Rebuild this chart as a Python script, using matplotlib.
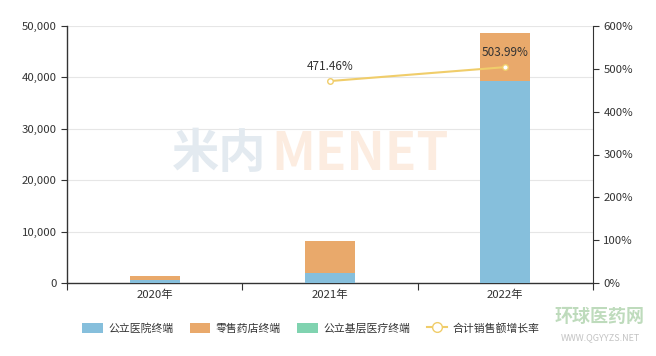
import matplotlib
matplotlib.use("Agg")
import matplotlib.pyplot as plt
from matplotlib.lines import Line2D
import numpy as np

plt.rcParams['font.family'] = ['Noto Sans CJK SC', 'DejaVu Sans']

categories = ["2020年", "2021年", "2022年"]
public_hospital = [500, 1900, 39300]
retail_pharmacy = [900, 6270, 9340]
primary_care = [0, 0, 0]
growth_rate = [None, 471.46, 503.99]
series_names = ["公立医院终端", "零售药店终端", "公立基层医疗终端", "合计销售额增长率"]

c_blue = "#86bfdc"
c_orange = "#e9a96b"
c_green = "#80d3b0"
c_line = "#f0cd6a"
c_text = "#333333"

fig = plt.figure(figsize=(6.56, 3.56), dpi=100)
ax = fig.add_axes([67/656, 1-283/356, (593-67)/656, (283-26)/356])
x = np.arange(len(categories))
w = 0.285
ax.bar(x, public_hospital, w, color=c_blue, zorder=3)
ax.bar(x, retail_pharmacy, w, bottom=public_hospital, color=c_orange, zorder=3)
bottom2 = [a + b for a, b in zip(public_hospital, retail_pharmacy)]
ax.bar(x, primary_care, w, bottom=bottom2, color=c_green, zorder=3)

ax.set_xlim(-0.5, 2.5)
ax.set_ylim(0, 50000)
ax.set_yticks(np.arange(0, 50001, 10000))
ax.set_yticklabels([f"{v:,}" for v in range(0, 50001, 10000)], fontsize=8.2, color=c_text)
ax.set_xticks([-0.5, 0.5, 1.5, 2.5])
ax.set_xticklabels([])
ax.set_xticks(x, minor=True)
ax.set_xticklabels(categories, minor=True, fontsize=8.2, color=c_text)
ax.tick_params(axis='x', which='minor', length=0, pad=5)
ax.tick_params(axis='x', which='major', length=5, color=c_text)
ax.tick_params(axis='y', length=4, color=c_text)
ax.grid(axis='y', color="#e6e6e6", linewidth=0.8, zorder=0)
ax.set_axisbelow(True)
ax.spines['top'].set_visible(False)
ax.spines['right'].set_visible(False)
for s in ['left', 'bottom']:
    ax.spines[s].set_color(c_text)
    ax.spines[s].set_linewidth(1)

# watermark
ax.text(0.37, 25000, "米内", fontsize=34, fontweight='bold', color="#e3eaf0",
        ha='center', va='center', zorder=1)
ax.text(1.17, 25000, "MENET", fontsize=37, fontweight='bold', color="#fcece0",
        ha='center', va='center', zorder=1)

ax2 = ax.twinx()
ax2.set_ylim(0, 600)
ax2.set_yticks(np.arange(0, 601, 100))
ax2.set_yticklabels([f"{v}%" for v in range(0, 601, 100)], fontsize=8.2, color=c_text)
ax2.tick_params(axis='y', length=4, color=c_text)
for s in ['top', 'left', 'bottom']:
    ax2.spines[s].set_visible(False)
ax2.spines['right'].set_color(c_text)
lx = [i for i, v in enumerate(growth_rate) if v is not None]
ly = [v for v in growth_rate if v is not None]
ax2.plot(lx, ly, color=c_line, linewidth=1.5, marker='o', markersize=4,
         markerfacecolor='white', markeredgecolor=c_line, zorder=5)
for xi, yi in zip(lx, ly):
    ax2.annotate(f"{yi:.2f}%", (xi, yi), textcoords='offset points', xytext=(0, 6),
                 ha='center', va='bottom', fontsize=8.5, color=c_text)

# legend
handles = [
    plt.Rectangle((0, 0), 1, 1, facecolor=c_blue, edgecolor='none'),
    plt.Rectangle((0, 0), 1, 1, facecolor=c_orange, edgecolor='none'),
    plt.Rectangle((0, 0), 1, 1, facecolor=c_green, edgecolor='none'),
    Line2D([0], [0], color=c_line, marker='o', markerfacecolor='white',
           markeredgecolor=c_line, markersize=7, linewidth=1.5),
]
fig.legend(handles, series_names, loc='center', bbox_to_anchor=(311/656, 1-328/356),
           ncol=4, frameon=False, fontsize=7.8, handlelength=1.9, handleheight=1.1,
           columnspacing=1.5, handletextpad=0.5, labelcolor=c_text)

fig.text(600/656, 1-316/356, "环球医药网", fontsize=13, fontweight='bold', color="#7fb87a",
         alpha=0.5, ha='center', va='center')
fig.text(600/656, 1-338/356, "WWW.QGYYZS.NET", fontsize=6.5, color="#888888",
         alpha=0.5, ha='center', va='center')

fig.savefig("out.png", dpi=100)
